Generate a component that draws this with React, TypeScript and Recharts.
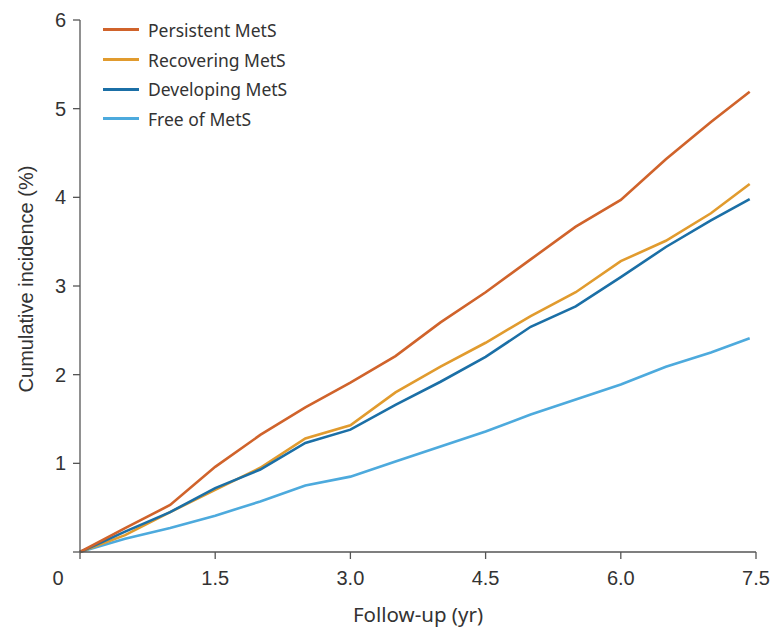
import React from 'react';
import { LineChart, Line, XAxis, YAxis, Legend } from 'recharts';

const times = [0, 0.5, 1, 1.5, 2, 2.5, 3, 3.5, 4, 4.5, 5, 5.5, 6, 6.5, 7, 7.43];
const persistent = [0, 0.27, 0.53, 0.96, 1.32, 1.63, 1.91, 2.21, 2.59, 2.93, 3.3, 3.67, 3.97, 4.43, 4.85, 5.19];
const recovering = [0, 0.19, 0.45, 0.7, 0.95, 1.28, 1.43, 1.8, 2.09, 2.36, 2.66, 2.93, 3.28, 3.51, 3.82, 4.15];
const developing = [0, 0.23, 0.45, 0.72, 0.93, 1.23, 1.38, 1.66, 1.92, 2.2, 2.54, 2.77, 3.1, 3.44, 3.74, 3.98];
const freeOf = [0, 0.15, 0.27, 0.41, 0.57, 0.75, 0.85, 1.02, 1.19, 1.36, 1.55, 1.72, 1.89, 2.09, 2.25, 2.41];

const xTicks = [0, 1.5, 3, 4.5, 6, 7.5];
const yTicks = [0, 1, 2, 3, 4, 5, 6];

const seriesNames = ['Persistent MetS', 'Recovering MetS', 'Developing MetS', 'Free of MetS'];
const seriesKeys = ['persistent', 'recovering', 'developing', 'free'];
const seriesColors = ['#D0632B', '#E19B2E', '#1B6FA6', '#4DAADD'];

const data = times.map((t, i) => ({
  t,
  persistent: persistent[i],
  recovering: recovering[i],
  developing: developing[i],
  free: freeOf[i],
}));

const tickFont = "'Liberation Sans', Arial, sans-serif";
const textFont = "'Noto Sans', 'Open Sans', sans-serif";

const XTick = (props: any) => {
  const { x, y, payload } = props;
  const v = payload.value;
  const label = v === 0 ? '0' : Number(v).toFixed(1);
  return (
    <text x={x + (v === 0 ? -22 : 0)} y={y} dy="0.71em" textAnchor="middle" fill="#333" fontSize={20} fontFamily={tickFont}>
      {label}
    </text>
  );
};

const YTick = (props: any) => {
  const { x, y, payload } = props;
  const v = payload.value;
  if (v === 0) return <g />;
  return (
    <text x={x} y={y} dy="0.355em" textAnchor="end" fill="#333" fontSize={20} fontFamily={tickFont}>
      {String(v)}
    </text>
  );
};

const LegendContent = () => (
  <div style={{ fontFamily: textFont, fontSize: 17.5, color: '#333' }}>
    {seriesNames.map((n, i) => (
      <div key={n} style={{ display: 'flex', alignItems: 'center', height: 29.7 }}>
        <div style={{ width: 36, height: 3, background: seriesColors[i], marginRight: 9 }} />
        <span>{n}</span>
      </div>
    ))}
  </div>
);

export default function App() {
  return (
    <div style={{ margin: '-8px 0 0 -8px', width: 784, height: 630, background: '#fff' }}>
      <LineChart width={784} height={630} data={data} margin={{ top: 20, right: 28, left: 0, bottom: 0 }}>
        <XAxis
          dataKey="t"
          type="number"
          domain={[0, 7.5]}
          ticks={xTicks}
          interval={0}
          height={78}
          tickSize={7}
          tickMargin={12}
          stroke="#555"
          strokeWidth={1.3}
          tick={<XTick />}
          label={{ value: 'Follow-up (yr)', position: 'insideBottom', offset: 8, fill: '#333', fontSize: 20.5, fontFamily: textFont }}
        />
        <YAxis
          type="number"
          domain={[0, 6]}
          ticks={yTicks}
          interval={0}
          width={80}
          tickSize={7}
          tickMargin={7}
          stroke="#555"
          strokeWidth={1.3}
          tick={<YTick />}
          label={{
            content: () => (
              <text x={26} y={279} transform="rotate(-90 26 279)" textAnchor="middle" dominantBaseline="central" fill="#333" fontSize={20} fontFamily={tickFont}>
                Cumulative incidence (%)
              </text>
            ),
          }}
        />
        <Legend
          layout="vertical"
          verticalAlign="middle"
          align="center"
          content={<LegendContent />}
          wrapperStyle={{ top: 15, left: 103, width: 220 }}
        />
        {[3, 1, 2, 0].map((i) => (
          <Line
            key={seriesKeys[i]}
            dataKey={seriesKeys[i]}
            name={seriesNames[i]}
            stroke={seriesColors[i]}
            strokeWidth={2.6}
            dot={false}
            type="linear"
            isAnimationActive={false}
          />
        ))}
      </LineChart>
    </div>
  );
}
